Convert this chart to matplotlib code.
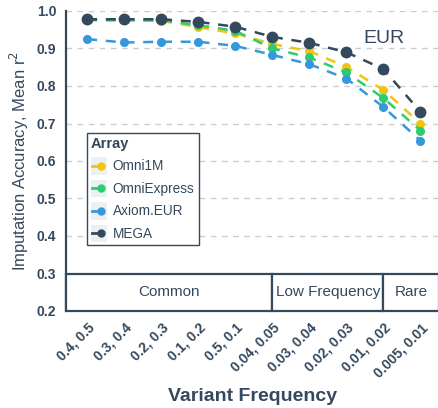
import matplotlib
matplotlib.use("Agg")
import matplotlib.pyplot as plt
import matplotlib.transforms as mtransforms
from matplotlib.legend_handler import HandlerLine2D
from matplotlib.lines import Line2D
from matplotlib.patches import Rectangle

plt.rcParams["font.family"] = ["Liberation Sans", "DejaVu Sans"]

TEXT = "#34495e"

# data
freq_bins = ["0.4, 0.5", "0.3, 0.4", "0.2, 0.3", "0.1, 0.2", "0.5, 0.1",
             "0.04, 0.05", "0.03, 0.04", "0.02, 0.03", "0.01, 0.02", "0.005, 0.01"]
omni1m = [0.975, 0.975, 0.974, 0.957, 0.940, 0.912, 0.893, 0.851, 0.789, 0.700]
omniexpress = [0.976, 0.976, 0.975, 0.962, 0.947, 0.900, 0.876, 0.836, 0.768, 0.681]
axiom_eur = [0.925, 0.916, 0.918, 0.918, 0.907, 0.883, 0.858, 0.820, 0.744, 0.654]
mega = [0.978, 0.978, 0.978, 0.971, 0.958, 0.931, 0.915, 0.890, 0.845, 0.731]

series = [
    ("Omni1M", omni1m, "#f1c40f", 5.5),
    ("OmniExpress", omniexpress, "#2ecc71", 5.5),
    ("Axiom.EUR", axiom_eur, "#3498db", 5.5),
    ("MEGA", mega, "#34495e", 7.5),
]

# frequency classes: (label, left edge, right edge) on the bin axis
classes = [("Common", -0.57, 5), ("Low Frequency", 5, 8), ("Rare", 8, 9.5)]


class KeyHandler(HandlerLine2D):
    """Legend key with a light grey background square."""

    def create_artists(self, legend, orig_handle, xdescent, ydescent,
                       width, height, fontsize, trans):
        bg = Rectangle((-xdescent, -ydescent - 0.6), width, height + 1.2,
                       facecolor="#ecf0f1", edgecolor="none", transform=trans)
        y = height / 2 - ydescent
        ln = Line2D([-xdescent + 1, -xdescent + width * 0.55], [y, y],
                    color=orig_handle.get_color(), lw=2, transform=trans)
        mk = Line2D([-xdescent + width * 0.62], [y], marker="o", ls="none",
                    color=orig_handle.get_color(), markersize=5, transform=trans)
        return [bg, ln, mk]


fig = plt.figure(figsize=(4.39, 4.08), dpi=100)
ax = fig.add_axes([66 / 439, 1 - 311 / 408, 373 / 439, 300 / 408])

x = list(range(len(freq_bins)))
order = [2, 1, 0, 3]
handles = {}
for i in order:
    name, vals, color, ms = series[i]
    (h,) = ax.plot(x, vals, ls=(0, (4, 3.5)), lw=1.8, color=color,
                   marker="o", markersize=ms, label=name, zorder=3 + i)
    handles[name] = h

ax.set_xlim(-0.57, 9.5)
ax.set_ylim(0.2, 1.0)
ax.set_yticks([0.2, 0.3, 0.4, 0.5, 0.6, 0.7, 0.8, 0.9, 1.0])
ax.set_yticklabels([f"{v:.1f}" for v in ax.get_yticks()],
                   fontsize=10, fontweight="bold", color=TEXT)
for yv in [0.4, 0.5, 0.6, 0.7, 0.8, 0.9, 1.0]:
    ax.axhline(yv, color="#c8cdd0", lw=1, ls=(0, (4, 4)), zorder=1)

ax.set_xticks(x)
ax.set_xticklabels(freq_bins, rotation=45, ha="right", va="top",
                   rotation_mode="anchor", fontsize=10, fontweight="bold",
                   color=TEXT)
offset = mtransforms.ScaledTranslation(7 / 100, -1 / 100, fig.dpi_scale_trans)
for lab in ax.get_xticklabels():
    lab.set_transform(lab.get_transform() + offset)
ax.tick_params(axis="both", length=0, pad=7)

for s in ["top", "right", "bottom"]:
    ax.spines[s].set_visible(False)
ax.spines["left"].set_color(TEXT)
ax.spines["left"].set_linewidth(1.6)

for label, x0, x1 in classes:
    ax.add_patch(Rectangle((x0, 0.2), x1 - x0, 0.1, facecolor="white",
                           edgecolor=TEXT, lw=1.6, zorder=4, clip_on=False))
    ax.text((x0 + x1) / 2, 0.25, label, ha="center", va="center",
            fontsize=11, color=TEXT, zorder=5)

ax.text(8, 0.926, "EUR", ha="center", va="center", fontsize=14, color=TEXT)

ax.set_ylabel("Imputation Accuracy, Mean r$^2$", fontsize=12, color=TEXT,
              labelpad=4)
ax.set_xlabel("Variant Frequency", fontsize=14, fontweight="bold", color=TEXT,
              labelpad=6)

names = [s[0] for s in series]
leg = ax.legend([handles[n] for n in names], names, title="Array",
                loc="upper left", bbox_to_anchor=(0.056, 0.593),
                handler_map={Line2D: KeyHandler()}, handlelength=1.2,
                handleheight=1.4, handletextpad=0.4, labelspacing=0.5,
                fontsize=9.8, borderpad=0.3, borderaxespad=0,
                alignment="left", fancybox=False, framealpha=1)
leg.get_title().set_fontweight("bold")
leg.get_title().set_fontsize(10.5)
leg.get_title().set_color(TEXT)
for t in leg.get_texts():
    t.set_color(TEXT)
leg.get_frame().set_edgecolor(TEXT)
leg.get_frame().set_linewidth(1)
leg.set_zorder(10)

fig.savefig("out.png", dpi=100)
